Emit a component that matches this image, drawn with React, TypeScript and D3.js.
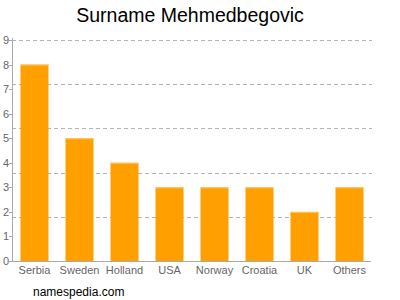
import React from "react";
import * as d3 from "d3";

const categories = ["Serbia", "Sweden", "Holland", "USA", "Norway", "Croatia", "UK", "Others"];
const values = [8, 5, 4, 3, 3, 3, 2, 3];
const yTicks = [0, 1, 2, 3, 4, 5, 6, 7, 8, 9];
const gridValues = [1.8, 3.6, 5.4, 7.2, 9];

export default function App() {
  const W = 400, H = 300;
  const left = 12, right = 372, top = 40, bottom = 261;
  const x = d3.scaleBand<string>().domain(categories).range([left, right]).paddingInner(0.378).paddingOuter(0.189);
  const y = d3.scaleLinear().domain([0, 9]).range([bottom, top]);
  const font = "Liberation Sans, Arial, sans-serif";
  return (
    <svg width={W} height={H} style={{ position: "absolute", left: 0, top: 0 }} fontFamily={font}>
      <rect width={W} height={H} fill="#fff" />
      <text x={190} y={22} textAnchor="middle" fontSize={19.5} fill="#000">Surname Mehmedbegovic</text>
      {gridValues.map((g) => (
        <line key={g} x1={left} x2={right} y1={Math.round(y(g)) + 0.5} y2={Math.round(y(g)) + 0.5} stroke="#b4b4b4" strokeDasharray="4,3" strokeWidth={1} />
      ))}
      {categories.map((c, i) => {
        const bx = x(c)!;
        const by = y(values[i]);
        return (
          <g key={c}>
            <rect x={bx} y={by} width={x.bandwidth()} height={bottom - by} fill="#FFA000" />
            <rect x={bx} y={by} width={x.bandwidth()} height={1} fill="#FFC468" />
            <text x={bx + x.bandwidth() / 2} y={274} textAnchor="middle" fontSize={11} fill="#666">{c}</text>
          </g>
        );
      })}
      <line x1={left + 0.5} x2={left + 0.5} y1={top - 2} y2={bottom} stroke="#aaa" />
      <line x1={left} x2={right - 1} y1={bottom + 0.5} y2={bottom + 0.5} stroke="#aaa" />
      {yTicks.map((t) => (
        <g key={t}>
          <line x1={left - 3} x2={left} y1={Math.round(y(t)) + 0.5} y2={Math.round(y(t)) + 0.5} stroke="#aaa" />
          <text x={9} y={y(t) + 4} textAnchor="end" fontSize={11} fill="#666">{t}</text>
        </g>
      ))}
      <text x={33} y={296} fontSize={12} fill="#000">namespedia.com</text>
    </svg>
  );
}
